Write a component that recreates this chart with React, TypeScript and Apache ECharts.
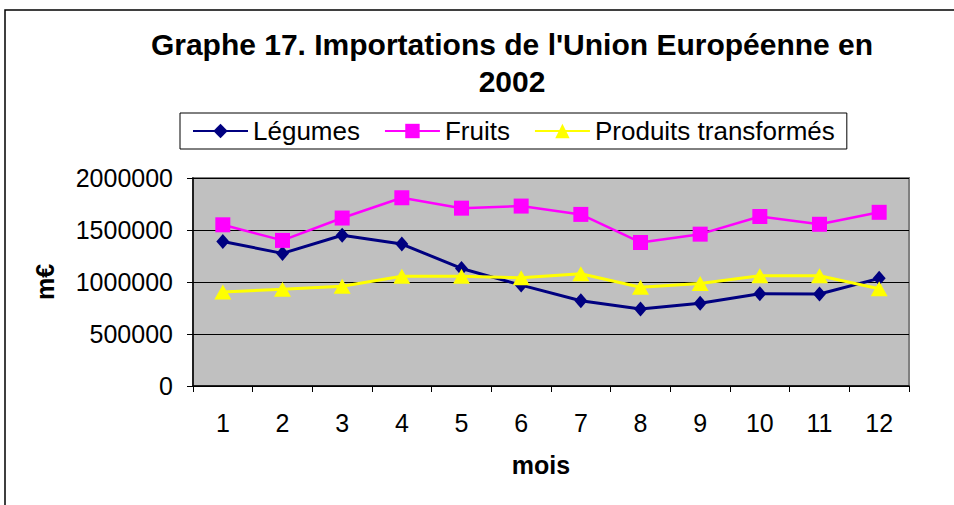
import React, { useEffect, useRef } from "react";
import * as echarts from "echarts";

const months = ["1", "2", "3", "4", "5", "6", "7", "8", "9", "10", "11", "12"];
const legumes = [1390000, 1275000, 1450000, 1365000, 1130000, 970000, 820000, 740000, 795000, 888000, 885000, 1035000];
const fruits = [1550000, 1400000, 1615000, 1810000, 1710000, 1730000, 1650000, 1380000, 1460000, 1630000, 1555000, 1670000];
const produits = [905000, 930000, 960000, 1055000, 1055000, 1040000, 1080000, 950000, 985000, 1060000, 1060000, 935000];

const FONT = "'Liberation Sans', Arial, sans-serif";

export default function App() {
  const ref = useRef<HTMLDivElement>(null);
  useEffect(() => {
    if (!ref.current) return;
    const chart = echarts.init(ref.current, undefined, { renderer: "svg" });
    chart.setOption({
      animation: false,
      backgroundColor: "#ffffff",
      textStyle: { fontFamily: FONT, color: "#000" },
      title: {
        text: "Graphe 17. Importations de l'Union Européenne en\n2002",
        left: 507,
        top: 21,
        textAlign: "center",
        textStyle: { fontFamily: FONT, fontSize: 30, fontWeight: "bold", color: "#000", lineHeight: 37 },
      },
      legend: {
        left: 180,
        top: 113,
        padding: [5, 12, 5, 12],
        borderColor: "#000",
        borderWidth: 1,
        itemWidth: 55,
        itemHeight: 18,
        itemGap: 24,
        textStyle: { fontFamily: FONT, fontSize: 26, color: "#000" },
        data: ["Légumes", "Fruits", "Produits transformés"],
      },
      graphic: [
        {
          type: "rect",
          shape: { x: 5, y: 10, width: 1200, height: 1200 },
          style: { fill: "none", stroke: "#000", lineWidth: 1.5 },
          silent: true,
        },
      ],
      grid: {
        left: 193,
        right: 45,
        top: 178,
        bottom: 119,
        show: true,
        backgroundColor: "#C0C0C0",
        borderColor: "#808080",
        borderWidth: 2,
      },
      xAxis: {
        type: "category",
        data: months,
        boundaryGap: true,
        name: "mois",
        nameLocation: "middle",
        nameGap: 66,
        nameTextStyle: { fontFamily: FONT, fontSize: 25, fontWeight: "bold", color: "#000", padding: [0, 20, 0, 0] },
        axisLine: { lineStyle: { color: "#000", width: 1.5 } },
        axisTick: { show: true, length: 6, alignWithLabel: false, lineStyle: { color: "#000" } },
        axisLabel: { fontFamily: FONT, fontSize: 25, color: "#000", margin: 24 },
        splitLine: { show: false },
      },
      yAxis: {
        type: "value",
        min: 0,
        max: 2000000,
        interval: 500000,
        name: "m€",
        nameLocation: "middle",
        nameGap: 136,
        nameTextStyle: { fontFamily: FONT, fontSize: 25, fontWeight: "bold", color: "#000" },
        axisLine: { show: true, lineStyle: { color: "#000", width: 1.5 } },
        axisTick: { show: true, length: 6, lineStyle: { color: "#000" } },
        axisLabel: { fontFamily: FONT, fontSize: 25, color: "#000", margin: 20, formatter: (v: number) => String(v) },
        splitLine: { show: true, lineStyle: { color: "#000", width: 1 } },
      },
      series: [
        {
          name: "Légumes",
          type: "line",
          data: legumes,
          symbol: "diamond",
          symbolSize: [13, 15],
          color: "#000080",
          lineStyle: { color: "#000080", width: 3 },
          itemStyle: { color: "#000080" },
        },
        {
          name: "Fruits",
          type: "line",
          data: fruits,
          symbol: "rect",
          symbolSize: 15,
          color: "#FF00FF",
          lineStyle: { color: "#FF00FF", width: 2.5 },
          itemStyle: { color: "#FF00FF" },
        },
        {
          name: "Produits transformés",
          type: "line",
          data: produits,
          symbol: "triangle",
          symbolSize: [17, 15],
          color: "#FFFF00",
          lineStyle: { color: "#FFFF00", width: 3 },
          itemStyle: { color: "#FFFF00" },
        },
      ],
    });
    return () => chart.dispose();
  }, []);
  return <div ref={ref} style={{ position: "fixed", left: 0, top: 0, width: 954, height: 505 }} />;
}
